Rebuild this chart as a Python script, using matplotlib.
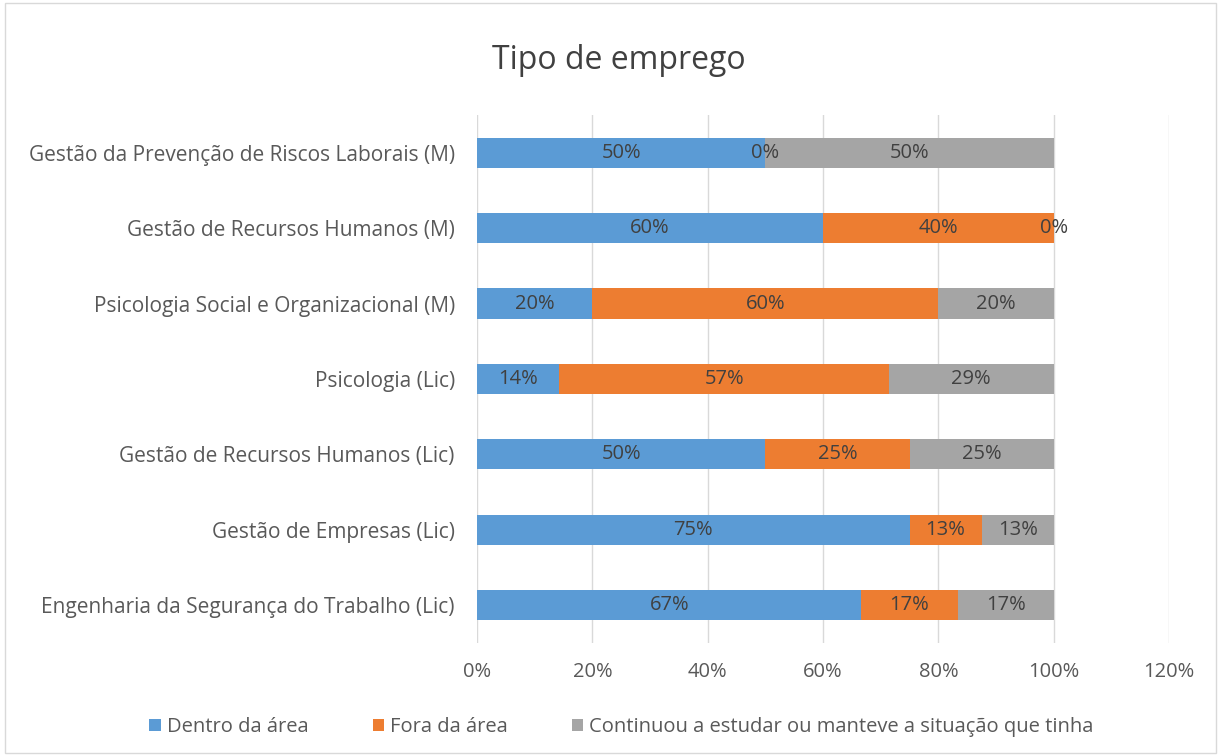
import matplotlib.pyplot as plt
import numpy as np
from matplotlib.ticker import FuncFormatter

plt.rcParams['font.family'] = ['Open Sans', 'DejaVu Sans']

cursos = [
    "Engenharia da Segurança do Trabalho (Lic)",
    "Gestão de Empresas (Lic)",
    "Gestão de Recursos Humanos (Lic)",
    "Psicologia (Lic)",
    "Psicologia Social e Organizacional (M)",
    "Gestão de Recursos Humanos (M)",
    "Gestão da Prevenção de Riscos Laborais (M)",
]
dentro = [4/6, 0.75, 0.50, 1/7, 0.20, 0.60, 0.50]
fora = [1/6, 0.125, 0.25, 4/7, 0.60, 0.40, 0.0]
continuou = [1/6, 0.125, 0.25, 2/7, 0.20, 0.0, 0.50]
series = ["Dentro da área", "Fora da área",
          "Continuou a estudar ou manteve a situação que tinha"]
cores = ["#5B9BD5", "#ED7D31", "#A5A5A5"]


def pct(v):
    # arredondar como o Excel (0.5 para cima)
    return f"{int(np.floor(v * 100 + 0.5))}%"


fig = plt.figure(figsize=(12.21, 7.56), dpi=100)
ax = fig.add_axes([0.3907, 0.1495, 0.5667, 0.6984])

y = np.arange(len(cursos))
left = np.zeros(len(cursos))
for vals, nome, cor in zip([dentro, fora, continuou], series, cores):
    vals = np.array(vals)
    ax.barh(y, vals, left=left, height=0.4, color=cor, label=nome, zorder=2)
    for yi, (l, v) in enumerate(zip(left, vals)):
        ax.text(l + v / 2, yi, pct(v), ha='center', va='center',
                fontsize=14.5, color='#404040', zorder=3)
    left = left + vals

ax.set_xlim(0, 1.2)
ax.set_ylim(-0.5, 6.5)
ax.set_xticks(np.arange(0, 1.21, 0.2))
ax.xaxis.set_major_formatter(FuncFormatter(lambda v, p: pct(v)))
ax.set_yticks(y)
ax.set_yticklabels(cursos)
ax.tick_params(axis='both', length=0, labelsize=15, labelcolor='#595959')
ax.tick_params(axis='x', labelsize=14.5, pad=14)
ax.tick_params(axis='y', pad=16)
ax.grid(axis='x', color='#D9D9D9', linewidth=1, zorder=0)
for s in ax.spines.values():
    s.set_visible(False)

fig.text(0.507, 0.92, "Tipo de emprego", ha='center', va='center',
         fontsize=23, color='#404040')
fig.legend(loc='center', bbox_to_anchor=(0.509, 0.038), ncol=3, frameon=False,
           fontsize=14.5, handlelength=0.55, handleheight=0.55, columnspacing=3.2,
           handletextpad=0.3, labelcolor='#595959')

fig.patches.append(plt.Rectangle((0.004, 0.004), 0.992, 0.992, transform=fig.transFigure,
                                 fill=False, edgecolor='#D9D9D9', linewidth=1))

fig.savefig("out.png", dpi=100)
